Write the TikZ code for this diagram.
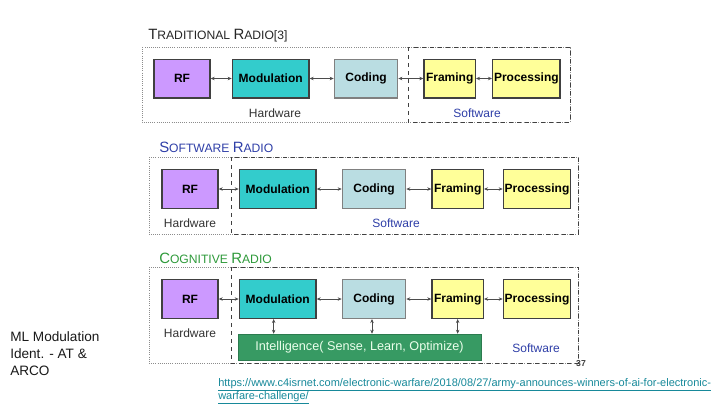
\documentclass[tikz,border=0pt]{standalone}
\usepackage{fontspec}
\setmainfont{Liberation Sans}
\usepackage{tikz}
\usetikzlibrary{arrows.meta, positioning}
\definecolor{rfpurple}{HTML}{CC99FF}
\definecolor{modteal}{HTML}{33CCCC}
\definecolor{codblue}{HTML}{BADDE2}
\definecolor{frayellow}{HTML}{FFFF99}
\definecolor{intelgreen}{HTML}{379A63}
\definecolor{swblue}{HTML}{2F3FA8}
\definecolor{cogreen}{HTML}{2E9A3A}
\definecolor{urlteal}{HTML}{17899A}
\newcommand{\radiotitle}[4]{{\fontsize{11.2}{12}\selectfont #1}{\fontsize{9.1}{10}\selectfont #2} {\fontsize{11.2}{12}\selectfont #3}{\fontsize{9.1}{10}\selectfont #4}}

\begin{document}
\begin{tikzpicture}[
    x=0.75pt, y=-0.75pt,
    font=\fontsize{9}{11}\selectfont,
    block/.style={
        rectangle, draw=black!75, line width=1pt,
        minimum height=29pt, inner sep=1pt,
        font=\fontsize{9}{11}\selectfont\bfseries
    },
    rfbox/.style={block, fill=rfpurple, minimum width=42pt},
    modbox/.style={block, fill=modteal, minimum width=57.5pt},
    codbox/.style={block, fill=codblue, draw=black!50, minimum width=47.5pt},
    frabox/.style={block, fill=frayellow, minimum width=38.5pt},
    probox/.style={block, fill=frayellow, minimum width=50.5pt},
    intelbox/.style={
        rectangle, fill=intelgreen, draw=intelgreen!80!black,
        minimum width=182pt, minimum height=19.5pt,
        text=white!92!green, font=\fontsize{9.5}{11}\selectfont
    },
    hwpart/.style={draw=black!45, densely dotted, line width=0.6pt},
    swpart/.style={draw=black!75, dashed, line width=0.7pt},
    title/.style={anchor=base west, inner sep=0pt},
    hwtext/.style={anchor=base, inner sep=0pt, text=black!80},
    swtext/.style={anchor=base, inner sep=0pt, text=swblue},
    arrow/.style={{Stealth[length=3pt,width=2.6pt]}-{Stealth[length=3pt,width=2.6pt]}, line width=0.5pt, color=black!70}
]
\useasboundingbox (0,0) rectangle (720,405);
\fill [white] (0,0) rectangle (720,405);

% traditional radio
\draw [hwpart] (142,47) rectangle (570,122);
\draw [swpart] (408,47) rectangle (570,122);
\node (ttitle) [title, text=black!85] at (148,39) {\radiotitle{T}{RADITIONAL}{R}{ADIO[3]}};
\node (trf) [rfbox] at (182,78.5) {RF};
\node (tmod) [modbox, right=15.75pt of trf] {Modulation};
\node (tcod) [codbox, right=18pt of tmod] {Coding};
\node (tfra) [frabox, right=18.75pt of tcod] {Framing};
\node (tpro) [probox, right=12pt of tfra] {Processing};
\node (thw) [hwtext] at (275,117) {Hardware};
\node (tsw) [swtext] at (477,117) {Software};
\draw [arrow] (trf)--(tmod);
\draw [arrow] (tmod)--(tcod);
\draw [arrow] (tcod)--(tfra);
\draw [arrow] (tfra)--(tpro);

% software radio
\draw [hwpart] (149,157) rectangle (578,234);
\draw [swpart] (231,157) rectangle (578,234);
\node (stitle) [title, text=swblue] at (159,152) {\radiotitle{S}{OFTWARE}{R}{ADIO}};
\node (srf) [rfbox] at (190,189) {RF};
\node (smod) [modbox, right=15pt of srf] {Modulation};
\node (scod) [codbox, right=18.75pt of smod] {Coding};
\node (sfra) [frabox, right=18.75pt of scod] {Framing};
\node (spro) [probox, right=14pt of sfra] {Processing};
\node (shw) [hwtext] at (190,227) {Hardware};
\node (ssw) [swtext] at (396,227) {Software};
\draw [arrow] (srf)--(smod);
\draw [arrow] (smod)--(scod);
\draw [arrow] (scod)--(sfra);
\draw [arrow] (sfra)--(spro);

% cognitive radio
\draw [hwpart] (149,267) rectangle (578,363);
\draw [swpart] (231,267) rectangle (578,363);
\node (ctitle) [title, text=cogreen] at (159,263) {\radiotitle{C}{OGNITIVE}{R}{ADIO}};
\node (crf) [rfbox] at (190,299) {RF};
\node (cmod) [modbox, right=15pt of crf] {Modulation};
\node (ccod) [codbox, right=18.75pt of cmod] {Coding};
\node (cfra) [frabox, right=18.75pt of ccod] {Framing};
\node (cpro) [probox, right=14pt of cfra] {Processing};
\node (cint) [intelbox] at (359.5,347) {Intelligence( Sense, Learn, Optimize)};
\node (chw) [hwtext] at (190,337) {Hardware};
\node (csw) [swtext] at (536,352) {Software};
\node (page) [anchor=base, inner sep=0pt, text=black!75, font=\fontsize{6.5}{8}\selectfont\bfseries] at (581,366) {37};
\draw [arrow] (crf)--(cmod);
\draw [arrow] (cmod)--(ccod);
\draw [arrow] (ccod)--(cfra);
\draw [arrow] (cfra)--(cpro);
\draw [arrow] ([xshift=-3pt]cmod.south)--([xshift=-3pt]cmod.south |- cint.north);
\draw [arrow] ([xshift=-1.5pt]ccod.south)--([xshift=-1.5pt]ccod.south |- cint.north);
\draw [arrow] (cfra.south)--(cfra.south |- cint.north);

\node (note) [anchor=north west, inner sep=0pt, align=left, text=black!90, font=\fontsize{10.2}{12.75}\selectfont] at (10,331) {ML Modulation\\Ident. - AT \&\\ARCO};
\node (link) [anchor=north west, inner sep=0pt, align=left, text=urlteal, font=\fontsize{8.25}{9.75}\selectfont] at (218,378) {\underline{https://www.c4isrnet.com/electronic-warfare/2018/08/27/army-announces-winners-of-ai-for-electronic-}\\\underline{warfare-challenge/}};
\end{tikzpicture}
\end{document}
